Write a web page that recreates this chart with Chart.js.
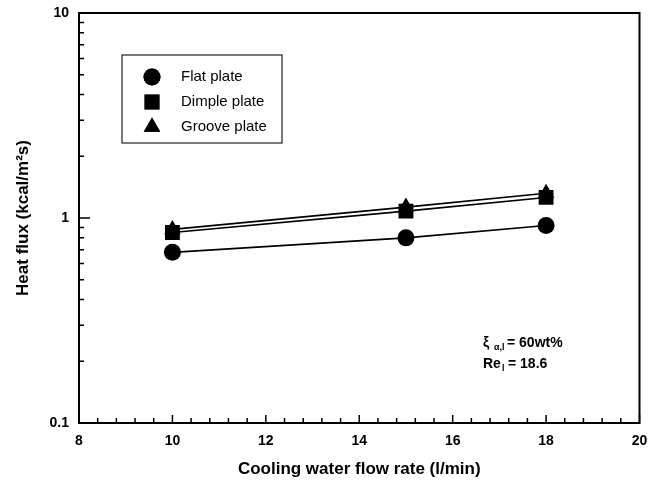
<!DOCTYPE html>
<html>
<head>
<meta charset="utf-8">
<script src="https://cdn.jsdelivr.net/npm/chart.js@4.4.1/dist/chart.umd.min.js"></script>
<style>
  html, body { margin: 0; padding: 0; background: #fff; }
</style>
</head>
<body>
<canvas id="chart" width="650" height="489"></canvas>
<script>
// --- Data ---
const flowRates = [10, 15, 18];
const flatPlate = [0.68, 0.80, 0.92];
const dimplePlate = [0.85, 1.08, 1.26];
const groovePlate = [0.88, 1.13, 1.32];
const xTickValues = [8, 10, 12, 14, 16, 18, 20];
const yTickValues = [0.1, 1, 10];
const seriesNames = ['Flat plate', 'Dimple plate', 'Groove plate'];

const FONT = '"Liberation Sans", Arial, Helvetica, sans-serif';

function toPoints(values) {
    return flowRates.map((x, i) => ({ x: x, y: values[i] }));
}

const markerStyles = [
    { pointStyle: 'circle', radius: 8.5 },
    { pointStyle: 'rect', radius: 10.5 },
    { pointStyle: 'triangle', radius: 9.5 }
];

const datasets = [flatPlate, dimplePlate, groovePlate].map((vals, i) => ({
    label: seriesNames[i],
    data: toPoints(vals),
    borderColor: '#000',
    backgroundColor: '#000',
    borderWidth: 1.6,
    pointStyle: markerStyles[i].pointStyle,
    pointRadius: markerStyles[i].radius,
    pointBorderWidth: 0,
    pointBackgroundColor: '#000',
    tension: 0
}));

// --- Inward ticks, frame, legend box, note ---
const framePlugin = {
    id: 'frame',
    beforeDatasetsDraw(chart) {
        const { ctx, chartArea: a, scales } = chart;
        const xs = scales.x, ys = scales.y;
        ctx.save();
        ctx.strokeStyle = '#000';
        ctx.lineWidth = 1.5;
        ctx.beginPath();
        // x ticks every 0.4, major every 2
        for (let k = 0; k <= 30; k++) {
            const v = 8 + k * 0.4;
            const px = xs.getPixelForValue(v);
            const len = (k % 5 === 0) ? 8 : 5;
            ctx.moveTo(px, a.bottom);
            ctx.lineTo(px, a.bottom - len);
        }
        // y ticks on log scale
        [0.1, 1].forEach(dec => {
            for (let m = 1; m <= 9; m++) {
                const py = ys.getPixelForValue(m * dec);
                const len = (m === 1) ? 11 : 5;
                ctx.moveTo(a.left, py);
                ctx.lineTo(a.left + len, py);
            }
        });
        ctx.stroke();
        ctx.lineWidth = 2;
        ctx.strokeRect(a.left, a.top, a.right - a.left, a.bottom - a.top);
        ctx.restore();
    },
    afterDraw(chart) {
        const { ctx } = chart;
        ctx.save();
        // legend box
        ctx.strokeStyle = '#222';
        ctx.lineWidth = 1.2;
        ctx.strokeRect(122, 55, 160, 88);
        const rows = [77, 102, 127];
        ctx.fillStyle = '#000';
        ctx.textBaseline = 'middle';
        ctx.font = '15px ' + FONT;
        rows.forEach((ry, i) => {
            Chart.helpers.drawPoint(ctx, {
                pointStyle: markerStyles[i].pointStyle,
                radius: markerStyles[i].radius,
                borderWidth: 0,
                rotation: 0
            }, 152, ry);
            ctx.fill();
            ctx.fillText(seriesNames[i], 181, ry);
        });
        // annotation
        ctx.textBaseline = 'alphabetic';
        ctx.font = 'bold 14px ' + FONT;
        ctx.fillText('\u03BE', 483, 347);
        ctx.font = 'bold 9px ' + FONT;
        ctx.fillText('\u03B1,l', 494, 350);
        ctx.font = 'bold 14px ' + FONT;
        ctx.fillText('= 60wt%', 507, 347);
        ctx.fillText('Re', 483, 368);
        ctx.font = 'bold 9px ' + FONT;
        ctx.fillText('l', 502, 371);
        ctx.font = 'bold 14px ' + FONT;
        ctx.fillText('= 18.6', 508, 368);
        ctx.restore();
    }
};

new Chart(document.getElementById('chart'), {
    type: 'line',
    data: { datasets: datasets },
    options: {
        responsive: false,
        animation: false,
        layout: { padding: { left: 0, top: 13, right: 9, bottom: 0 } },
        plugins: { legend: { display: false }, tooltip: { enabled: false } },
        scales: {
            x: {
                type: 'linear',
                min: 8,
                max: 20,
                afterBuildTicks: scale => { scale.ticks = xTickValues.map(v => ({ value: v })); },
                afterFit: scale => {
                    scale.height = 66;
                    scale.paddingLeft = 0;
                    scale.paddingRight = 0;
                },
                grid: { display: false, drawTicks: false },
                border: { display: false },
                ticks: { color: '#000', font: { family: FONT, size: 14, weight: 'bold' }, padding: 10, maxRotation: 0 },
                title: {
                    display: true,
                    text: 'Cooling water flow rate (l/min)',
                    color: '#000',
                    font: { family: FONT, size: 17, weight: 'bold' },
                    padding: { top: 0, bottom: 9 }
                }
            },
            y: {
                type: 'logarithmic',
                min: 0.1,
                max: 10,
                afterBuildTicks: scale => { scale.ticks = yTickValues.map(v => ({ value: v })); },
                afterFit: scale => {
                    scale.width = 79;
                    scale.paddingTop = 0;
                    scale.paddingBottom = 0;
                },
                grid: { display: false, drawTicks: false },
                border: { display: false },
                ticks: {
                    color: '#000',
                    font: { family: FONT, size: 14, weight: 'bold' },
                    padding: 10,
                    callback: v => String(v)
                },
                title: {
                    display: true,
                    text: 'Heat flux (kcal/m\u00B2s)',
                    color: '#000',
                    font: { family: FONT, size: 17, weight: 'bold' },
                    padding: { top: 13, bottom: 0 }
                }
            }
        }
    },
    plugins: [framePlugin]
});
</script>
</body>
</html>
